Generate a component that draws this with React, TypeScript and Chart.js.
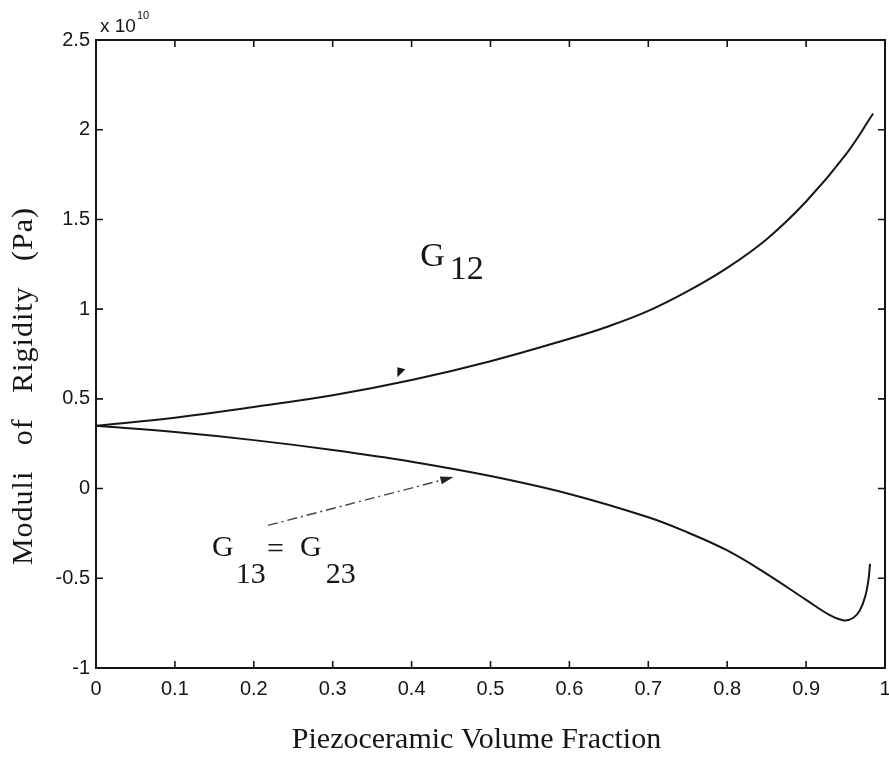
import React, { useEffect, useRef } from "react";
import { Chart, registerables } from "chart.js";

Chart.register(...registerables);

// ---- data (values in units of 1e10 Pa) ----
const xG12 = [0, 0.1, 0.2, 0.3, 0.4, 0.5, 0.6, 0.65, 0.7, 0.75, 0.8, 0.85, 0.9, 0.95, 0.985];
const g12 = [0.35, 0.395, 0.455, 0.52, 0.605, 0.71, 0.835, 0.905, 0.99, 1.1, 1.23, 1.39, 1.6, 1.86, 2.09];

const xG13 = [0, 0.1, 0.2, 0.3, 0.4, 0.5, 0.6, 0.7, 0.75, 0.8, 0.85, 0.9, 0.93, 0.948, 0.96, 0.968, 0.975, 0.979, 0.981];
const g13 = [0.35, 0.315, 0.27, 0.215, 0.15, 0.07, -0.03, -0.16, -0.245, -0.345, -0.475, -0.62, -0.705, -0.735, -0.72, -0.68, -0.6, -0.51, -0.42];

const xTicks = [0, 0.1, 0.2, 0.3, 0.4, 0.5, 0.6, 0.7, 0.8, 0.9, 1];
const xTickLabels = ["0", "0.1", "0.2", "0.3", "0.4", "0.5", "0.6", "0.7", "0.8", "0.9", "1"];
const yTicks = [-1, -0.5, 0, 0.5, 1, 1.5, 2, 2.5];
const yTickLabels = ["-1", "-0.5", "0", "0.5", "1", "1.5", "2", "2.5"];

const xTitle = "Piezoceramic Volume Fraction";
const yTitle = "Moduli   of   Rigidity   (Pa)";
const exponentBase = "x 10";
const exponentPower = "10";

// annotation anchor points in data space
const g12LabelPos = { x: 0.411, y: 1.24 };
const g13LabelPos = { x: 0.147, y: -0.378 };
const g12ArrowTip = { x: 0.382, y: 0.62 };
const g13ArrowFrom = { x: 0.218, y: -0.205 };
const g13ArrowTo = { x: 0.453, y: 0.064 };

const INK = "#161616";
const SERIF = "'Liberation Serif', 'Times New Roman', serif";
const SANS = "'Liberation Sans', Arial, sans-serif";

const decorPlugin = {
  id: "decor",
  afterDraw(chart: any) {
    const { ctx, chartArea: a, scales } = chart;
    const x = scales.x;
    const y = scales.y;
    ctx.save();

    // frame
    ctx.strokeStyle = INK;
    ctx.lineWidth = 2;
    ctx.strokeRect(a.left, a.top, a.right - a.left, a.bottom - a.top);

    // inward ticks on all four sides
    ctx.lineWidth = 1.6;
    const tl = 7;
    ctx.beginPath();
    xTicks.forEach((v) => {
      const px = x.getPixelForValue(v);
      ctx.moveTo(px, a.bottom);
      ctx.lineTo(px, a.bottom - tl);
      ctx.moveTo(px, a.top);
      ctx.lineTo(px, a.top + tl);
    });
    yTicks.forEach((v) => {
      const py = y.getPixelForValue(v);
      ctx.moveTo(a.left, py);
      ctx.lineTo(a.left + tl, py);
      ctx.moveTo(a.right, py);
      ctx.lineTo(a.right - tl, py);
    });
    ctx.stroke();

    // exponent label
    ctx.fillStyle = INK;
    ctx.textAlign = "left";
    ctx.textBaseline = "alphabetic";
    ctx.font = `19px ${SANS}`;
    ctx.fillText(exponentBase, a.left + 4, a.top - 8);
    const wb = ctx.measureText(exponentBase).width;
    ctx.font = `11px ${SANS}`;
    ctx.fillText(exponentPower, a.left + 4 + wb + 1, a.top - 21);

    // axis titles
    ctx.font = `30px ${SERIF}`;
    ctx.textAlign = "center";
    ctx.fillText(xTitle, (a.left + a.right) / 2 - 14, chart.height - 10);

    ctx.save();
    ctx.translate(32, (a.top + a.bottom) / 2 + 32);
    ctx.rotate(-Math.PI / 2);
    ctx.font = `30px ${SERIF}`;
    (ctx as any).letterSpacing = "1px";
    ctx.fillText(yTitle, 0, 0);
    ctx.restore();

    // G12 label
    ctx.textAlign = "left";
    ctx.font = `34px ${SERIF}`;
    let wG = ctx.measureText("G").width;
    let gx = x.getPixelForValue(g12LabelPos.x);
    let gy = y.getPixelForValue(g12LabelPos.y);
    ctx.fillText("G", gx, gy);
    ctx.fillText("12", gx + wG + 5, gy + 13);

    // G13 = G23 label
    ctx.font = `30px ${SERIF}`;
    wG = ctx.measureText("G").width;
    gx = x.getPixelForValue(g13LabelPos.x);
    gy = y.getPixelForValue(g13LabelPos.y);
    ctx.fillText("G", gx, gy);
    ctx.fillText("13", gx + wG + 2, gy + 27);
    ctx.fillText("=", gx + 55, gy + 2);
    ctx.fillText("G", gx + 88, gy);
    ctx.fillText("23", gx + 88 + wG + 4, gy + 27);

    // small arrowhead on G12
    const tx = x.getPixelForValue(g12ArrowTip.x);
    const ty = y.getPixelForValue(g12ArrowTip.y);
    ctx.beginPath();
    ctx.moveTo(tx, ty);
    ctx.lineTo(tx, ty - 10);
    ctx.lineTo(tx + 8, ty - 8);
    ctx.closePath();
    ctx.fill();

    // dash-dot arrow to G13
    const fx = x.getPixelForValue(g13ArrowFrom.x);
    const fy = y.getPixelForValue(g13ArrowFrom.y);
    const ex = x.getPixelForValue(g13ArrowTo.x);
    const ey = y.getPixelForValue(g13ArrowTo.y);
    const ang = Math.atan2(ey - fy, ex - fx);
    const hl = 13;
    const bx = ex - hl * Math.cos(ang);
    const by = ey - hl * Math.sin(ang);
    ctx.strokeStyle = "#444";
    ctx.lineWidth = 1.4;
    ctx.setLineDash([10, 4, 2, 4]);
    ctx.beginPath();
    ctx.moveTo(fx, fy);
    ctx.lineTo(bx, by);
    ctx.stroke();
    ctx.setLineDash([]);
    ctx.fillStyle = "#222";
    ctx.beginPath();
    ctx.moveTo(ex, ey);
    ctx.lineTo(bx - 4 * Math.sin(ang), by + 4 * Math.cos(ang));
    ctx.lineTo(bx + 4 * Math.sin(ang), by - 4 * Math.cos(ang));
    ctx.closePath();
    ctx.fill();

    ctx.restore();
  },
};

export default function App() {
  const ref = useRef<HTMLCanvasElement | null>(null);

  useEffect(() => {
    document.body.style.margin = "0";
    document.body.style.background = "#fff";
    if (!ref.current) return;
    const chart = new Chart(ref.current, {
      type: "line",
      data: {
        datasets: [
          {
            label: "G12",
            data: xG12.map((v, i) => ({ x: v, y: g12[i] })),
            borderColor: INK,
            borderWidth: 2,
            pointRadius: 0,
            tension: 0.4,
            fill: false,
          },
          {
            label: "G13 = G23",
            data: xG13.map((v, i) => ({ x: v, y: g13[i] })),
            borderColor: INK,
            borderWidth: 2,
            pointRadius: 0,
            tension: 0.4,
            fill: false,
          },
        ],
      },
      options: {
        animation: false,
        responsive: false,
        devicePixelRatio: 1,
        layout: { padding: { left: 0, right: 4, top: 40, bottom: 0 } },
        plugins: {
          legend: { display: false },
          tooltip: { enabled: false },
          title: { display: false },
        },
        scales: {
          x: {
            type: "linear",
            min: 0,
            max: 1,
            afterBuildTicks: (s: any) => {
              s.ticks = xTicks.map((v) => ({ value: v }));
            },
            afterFit: (s: any) => {
              s.height = 90;
              s.paddingLeft = 0;
              s.paddingRight = 0;
            },
            grid: { display: false, drawTicks: false },
            border: { display: false },
            ticks: {
              padding: 9,
              color: INK,
              font: { family: SANS, size: 20 },
              maxRotation: 0,
              autoSkip: false,
              callback: (v: any) => {
                const i = xTicks.indexOf(Number(v));
                return i >= 0 ? xTickLabels[i] : "";
              },
            },
          },
          y: {
            type: "linear",
            min: -1,
            max: 2.5,
            afterBuildTicks: (s: any) => {
              s.ticks = yTicks.map((v) => ({ value: v }));
            },
            afterFit: (s: any) => {
              s.width = 96;
              s.paddingTop = 0;
              s.paddingBottom = 0;
            },
            grid: { display: false, drawTicks: false },
            border: { display: false },
            ticks: {
              padding: 6,
              color: INK,
              font: { family: SANS, size: 20 },
              autoSkip: false,
              callback: (v: any) => {
                const i = yTicks.indexOf(Number(v));
                return i >= 0 ? yTickLabels[i] : "";
              },
            },
          },
        },
      },
      plugins: [decorPlugin],
    } as any);
    return () => chart.destroy();
  }, []);

  return (
    <div style={{ width: 889, height: 758, background: "#fff" }}>
      <canvas ref={ref} width={889} height={758} style={{ display: "block", width: 889, height: 758 }} />
    </div>
  );
}
